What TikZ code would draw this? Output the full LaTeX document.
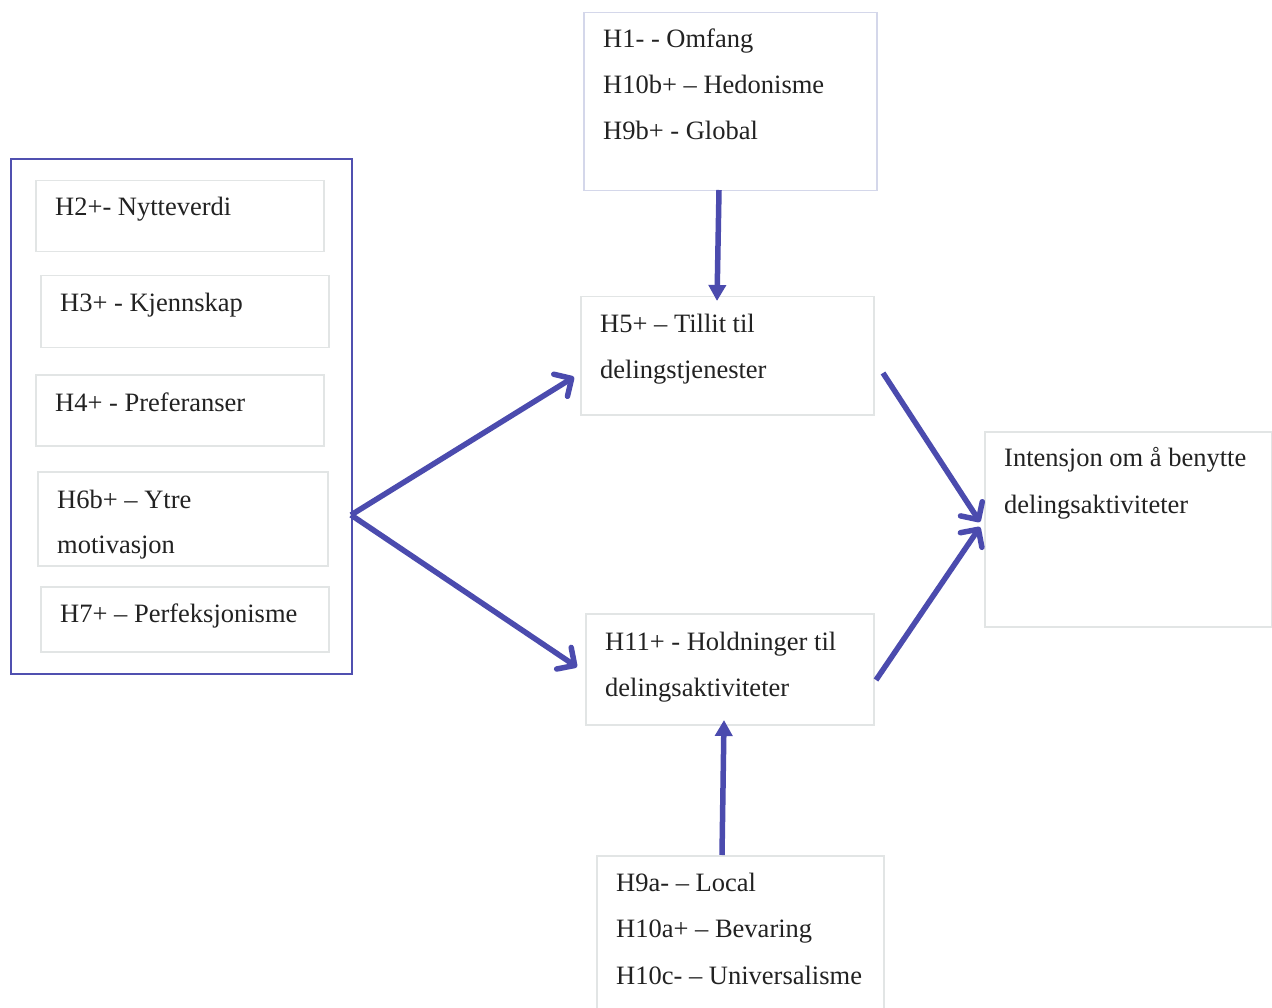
\documentclass[tikz,border=0pt]{standalone}
\usepackage{fontspec}
\setmainfont{Liberation Serif}
\usetikzlibrary{arrows.meta}
\definecolor{arrowc}{HTML}{4B4BAE}
\definecolor{outerc}{HTML}{5050B0}
\definecolor{boxc}{HTML}{E2E5E5}
\definecolor{topboxc}{HTML}{D4D7EA}
\definecolor{txtc}{HTML}{222222}
\tikzset{
  box/.style={draw=boxc, line width=1.5pt, anchor=north west, inner sep=0pt, minimum width=#1},
  lbl/.style={anchor=base west, inner sep=0pt, text=txtc, font=\fontsize{26.5}{30}\selectfont},
  conn/.style={draw=arrowc, line width=5.5pt},
  vtip/.style={-{Triangle[length=16pt,width=17pt]}},
  btip/.style={-{Straight Barb[length=13pt,width=26pt,line width=5.5pt,round]}}
}
\begin{document}
\begin{tikzpicture}[x=1pt,y=-1pt]
\useasboundingbox (0,0) rectangle (1272,1008);
\fill[white] (0,0) rectangle (1272,1008);
% top box
\node[box=293pt, draw=topboxc, minimum height=178pt] (top) at (583,12) {};
\node[lbl] (t1) at (603,48) {H1- - Omfang};
\node[lbl] (t2) at (603,94) {H10b+ -- Hedonisme};
\node[lbl] (t3) at (603,140) {H9b+ - Global};
% left outer box
\node[draw=outerc, line width=1.8pt, anchor=north west, inner sep=0pt, minimum width=341pt, minimum height=515pt] (left) at (10,158) {};
\node[box=288pt, minimum height=71pt] (b2) at (35,180) {};
\node[lbl] (l2) at (55,216) {H2+- Nytteverdi};
\node[box=288pt, minimum height=72pt] (b3) at (40,275) {};
\node[lbl] (l3) at (60,312) {H3+ - Kjennskap};
\node[box=288pt, minimum height=71pt] (b4) at (35,374) {};
\node[lbl] (l4) at (55,411) {H4+ - Preferanser};
\node[box=290pt, minimum height=94pt] (b6) at (37,471) {};
\node[lbl] (l6a) at (57,508) {H6b+ -- Ytre};
\node[lbl] (l6b) at (57,553) {motivasjon};
\node[box=288pt, minimum height=65pt] (b7) at (40,586) {};
\node[lbl] (l7) at (60,622) {H7+ -- Perfeksjonisme};
% H5
\node[box=293pt, minimum height=118pt] (h5) at (580,296) {};
\node[lbl] (h5a) at (600,333) {H5+ -- Tillit til};
\node[lbl] (h5b) at (600,378) {delingstjenester};
% H11
\node[box=288pt, minimum height=111pt] (h11) at (585,613) {};
\node[lbl] (h11a) at (605,650) {H11+ - Holdninger til};
\node[lbl] (h11b) at (605,696) {delingsaktiviteter};
% bottom box
\node[box=287pt, minimum height=160pt] (bot) at (596,855) {};
\node[lbl] (bo1) at (616,891) {H9a- -- Local};
\node[lbl] (bo2) at (616,937) {H10a+ -- Bevaring};
\node[lbl] (bo3) at (616,984) {H10c- -- Universalisme};
% right box
\node[box=287pt, minimum height=195pt] (res) at (984,431) {};
\node[lbl] (r1) at (1004,466) {Intensjon om å benytte};
\node[lbl] (r2) at (1004,513) {delingsaktiviteter};
% connector coordinates
\coordinate (topout) at (719,190);
\coordinate (h5in) at (717,301);
\coordinate (lsrc) at (351,515);
\coordinate (h5l) at (574,377);
\coordinate (h11l) at (577,667);
\coordinate (h5r) at (883,373);
\coordinate (h11r) at (876,680);
\coordinate (resin1) at (980,522);
\coordinate (resin2) at (980,527);
\coordinate (botout) at (722,855);
\coordinate (h11in) at (724,720);
% connectors
\draw[conn, vtip] (topout) -- (h5in);
\draw[conn, vtip] (botout) -- (h11in);
\draw[conn, btip] (lsrc) -- (h5l);
\draw[conn, btip] (lsrc) -- (h11l);
\draw[conn, btip] (h5r) -- (resin1);
\draw[conn, btip] (h11r) -- (resin2);
\end{tikzpicture}
\end{document}
